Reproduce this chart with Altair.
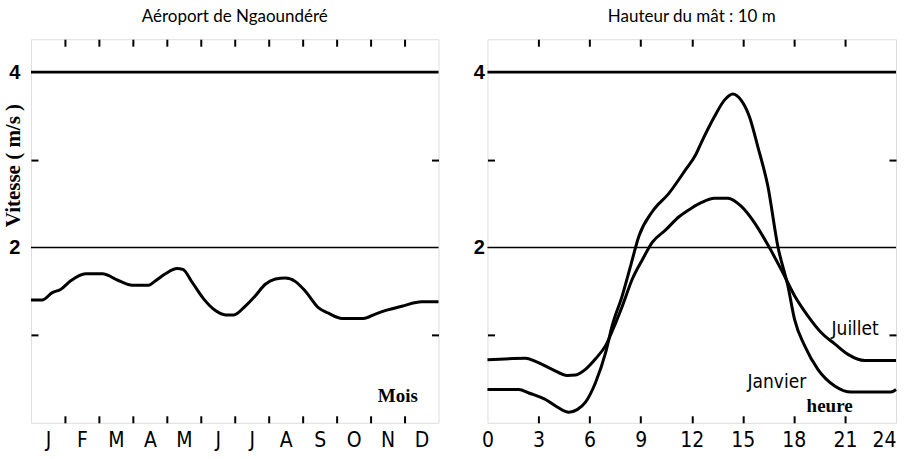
import altair as alt
import pandas as pd

# ---------------- data ----------------
mois_lettres = ["J", "F", "M", "A", "M", "J", "J", "A", "S", "O", "N", "D"]
mois_x = [0, 0.33, 0.63, 0.87, 1.17, 1.61, 2.10, 2.59, 2.98, 3.47, 3.67, 3.96, 4.30, 4.47,
          4.75, 5.09, 5.43, 5.73, 5.97, 6.31, 6.61, 6.90, 7.20, 7.49, 7.79, 8.08, 8.47,
          8.76, 9.16, 9.79, 10.14, 10.53, 10.92, 11.51, 12]
mois_v = [1.40, 1.40, 1.485, 1.52, 1.62, 1.70, 1.70, 1.62, 1.57, 1.57, 1.62, 1.70, 1.76, 1.75,
          1.60, 1.41, 1.28, 1.23, 1.23, 1.33, 1.45, 1.58, 1.64, 1.65, 1.61, 1.50, 1.31,
          1.25, 1.19, 1.19, 1.24, 1.29, 1.33, 1.38, 1.38]

juillet_h = [0, 2.24, 2.82, 3.8, 4.69, 5.18, 5.76, 6.35, 6.94, 7.53, 7.92, 8.51, 9.1, 9.69,
             10.47, 11.25, 12.0, 12.55, 13.33, 14.12, 14.9, 15.69, 16.47, 17.25, 18.04,
             18.82, 19.6, 20.4, 21.18, 22.16, 24]
juillet_v = [0.72, 0.735, 0.70, 0.61, 0.54, 0.545, 0.61, 0.73, 0.88, 1.14, 1.33, 1.64, 1.86,
             2.06, 2.20, 2.35, 2.45, 2.51, 2.56, 2.56, 2.47, 2.28, 2.03, 1.75, 1.45, 1.22,
             1.03, 0.90, 0.78, 0.71, 0.71]

janvier_h = [0, 1.84, 2.43, 3.41, 4.1, 4.78, 5.27, 5.76, 6.35, 6.94, 7.33, 7.92, 8.41, 8.9,
             9.69, 10.67, 11.65, 12.24, 12.55, 13.33, 13.92, 14.41, 14.9, 15.39, 15.88,
             16.47, 17.06, 17.65, 18.04, 18.63, 19.41, 20.4, 21.37, 23.7, 24]
janvier_v = [0.38, 0.38, 0.34, 0.265, 0.18, 0.12, 0.15, 0.235, 0.46, 0.80, 1.11, 1.45, 1.79,
             2.13, 2.41, 2.62, 2.89, 3.06, 3.19, 3.49, 3.68, 3.75, 3.68, 3.49, 3.15, 2.70,
             2.01, 1.56, 1.18, 0.88, 0.61, 0.42, 0.35, 0.35, 0.38]

niveaux = [4, 2]
niveaux_epaisseur = [2.6, 1.6]

heures_ticks = [3, 6, 9, 12, 15, 18, 21]
heures_labels = [0, 3, 6, 9, 12, 15, 18, 21, 24]
mois_ticks = list(range(1, 12))
mois_labels_pos = [i + 0.5 for i in range(12)]

y_ticks = [1, 3]
y_labels = [2, 4]

titre_gauche = "Aéroport de Ngaoundéré"
titre_droite = "Hauteur du mât : 10 m"
titre_y = "Vitesse ( m/s )"

etiq_gauche = pd.DataFrame({"x": [10.8], "v": [0.31], "t": ["Mois"]})
etiq_droite_serif = pd.DataFrame({"x": [20.1], "v": [0.19], "t": ["heure"]})
etiq_droite_sans = pd.DataFrame({"x": [21.6, 17.0], "v": [1.07, 0.46], "t": ["Juillet", "Janvier"]})

YMAX = 4.375
H = 384

NARROW = "Liberation Sans Narrow, DejaVu Sans Condensed, Arial Narrow, sans-serif"
SERIF = "Liberation Serif, Times New Roman, serif"


def tick_axis(orient, values):
    return alt.Axis(orient=orient, values=values, labels=False, title=None, domain=False,
                    grid=False, tickSize=7, tickWidth=2, tickColor="black", offset=-7)


def panel(lines_df, xdomain, tick_vals, label_vals, label_expr, serif_df, sans_df,
          title, width, ylab_pad, with_ytitle):
    xs = alt.Scale(domain=xdomain, nice=False, zero=False)
    ys = alt.Scale(domain=[0, YMAX], nice=False, zero=False)

    rules_df = pd.DataFrame({"v": niveaux, "w": niveaux_epaisseur,
                             "x0": [xdomain[0]] * len(niveaux), "x1": [xdomain[1]] * len(niveaux)})

    lines = alt.Chart(lines_df).mark_line(color="black", strokeWidth=3, interpolate="monotone").encode(
        x=alt.X("x:Q", scale=xs, axis=tick_axis("bottom", tick_vals)),
        y=alt.Y("v:Q", scale=ys, axis=tick_axis("left", y_ticks)),
        detail="s:N",
    )

    rules = alt.Chart(rules_df).mark_rule(color="black").encode(
        x=alt.X("x0:Q", scale=xs, axis=tick_axis("top", tick_vals)),
        x2="x1:Q",
        y=alt.Y("v:Q", scale=ys, axis=tick_axis("right", y_ticks)),
        strokeWidth=alt.StrokeWidth("w:Q", scale=None),
    )

    xlab_kwargs = dict(orient="bottom", values=label_vals, ticks=False, domain=False, grid=False,
                       title=None, labelFont=NARROW, labelFontSize=21, labelColor="black",
                       labelPadding=7, labelFlush=False, labelOverlap=False, labelBound=False)
    if label_expr:
        xlab_kwargs["labelExpr"] = label_expr
    else:
        xlab_kwargs["labelAlign"] = {"condition": {"test": "datum.value >= 24", "value": "right"},
                                     "value": "center"}
    ylab_kwargs = dict(orient="left", values=y_labels, ticks=False, domain=False, grid=False,
                       labelFont="Liberation Sans, Arial, sans-serif", labelFontSize=20,
                       labelFontWeight="bold", labelColor="black", labelPadding=ylab_pad)
    if with_ytitle:
        ylab_kwargs.update(title=titre_y, titleFont=SERIF, titleFontSize=21, titleFontWeight="bold",
                           titleColor="black", titleX=-17, titleY=126, titleBaseline="middle",
                           titleAngle=-90)
    else:
        ylab_kwargs["title"] = None

    txt_serif = alt.Chart(serif_df).mark_text(font=SERIF, fontSize=19, fontWeight="bold",
                                              color="black").encode(
        x=alt.X("x:Q", scale=xs, axis=alt.Axis(**xlab_kwargs)),
        y=alt.Y("v:Q", scale=ys, axis=alt.Axis(**ylab_kwargs)),
        text="t:N",
    )
    layers = [rules, lines, txt_serif]
    if sans_df is not None:
        txt_sans = alt.Chart(sans_df).mark_text(font=NARROW, fontSize=19, color="black").encode(
            x=alt.X("x:Q", scale=xs, axis=None),
            y=alt.Y("v:Q", scale=ys, axis=None),
            text="t:N",
        )
        layers.append(txt_sans)

    return alt.layer(*layers).resolve_axis(x="independent", y="independent").properties(
        width=width, height=H,
        title=alt.Title(title, font="Lato, Open Sans, sans-serif", fontSize=17, fontWeight="normal",
                        color="black", offset=12, anchor="middle"),
    )


left_df = pd.DataFrame({"x": mois_x, "v": mois_v, "s": "annuel"})
right_df = pd.concat([
    pd.DataFrame({"x": juillet_h, "v": juillet_v, "s": "Juillet"}),
    pd.DataFrame({"x": janvier_h, "v": janvier_v, "s": "Janvier"}),
])

month_expr = "[" + ",".join("'%s'" % m for m in mois_lettres) + "][floor(datum.value)]"

left = panel(left_df, [0, 12], mois_ticks, mois_labels_pos, month_expr, etiq_gauche, None,
             titre_gauche, 408, 11, True)
right = panel(right_df, [0, 24], heures_ticks, heures_labels, None, etiq_droite_serif,
              etiq_droite_sans, titre_droite, 409, 3, False)

chart = alt.hconcat(left, right, spacing=27).properties(
    padding={"left": 2, "top": 7, "right": 2, "bottom": 1}
).configure_view(stroke="black", strokeWidth=2).configure(background="white")

chart.save("out.html", embed_options={"renderer": "svg", "actions": False})
